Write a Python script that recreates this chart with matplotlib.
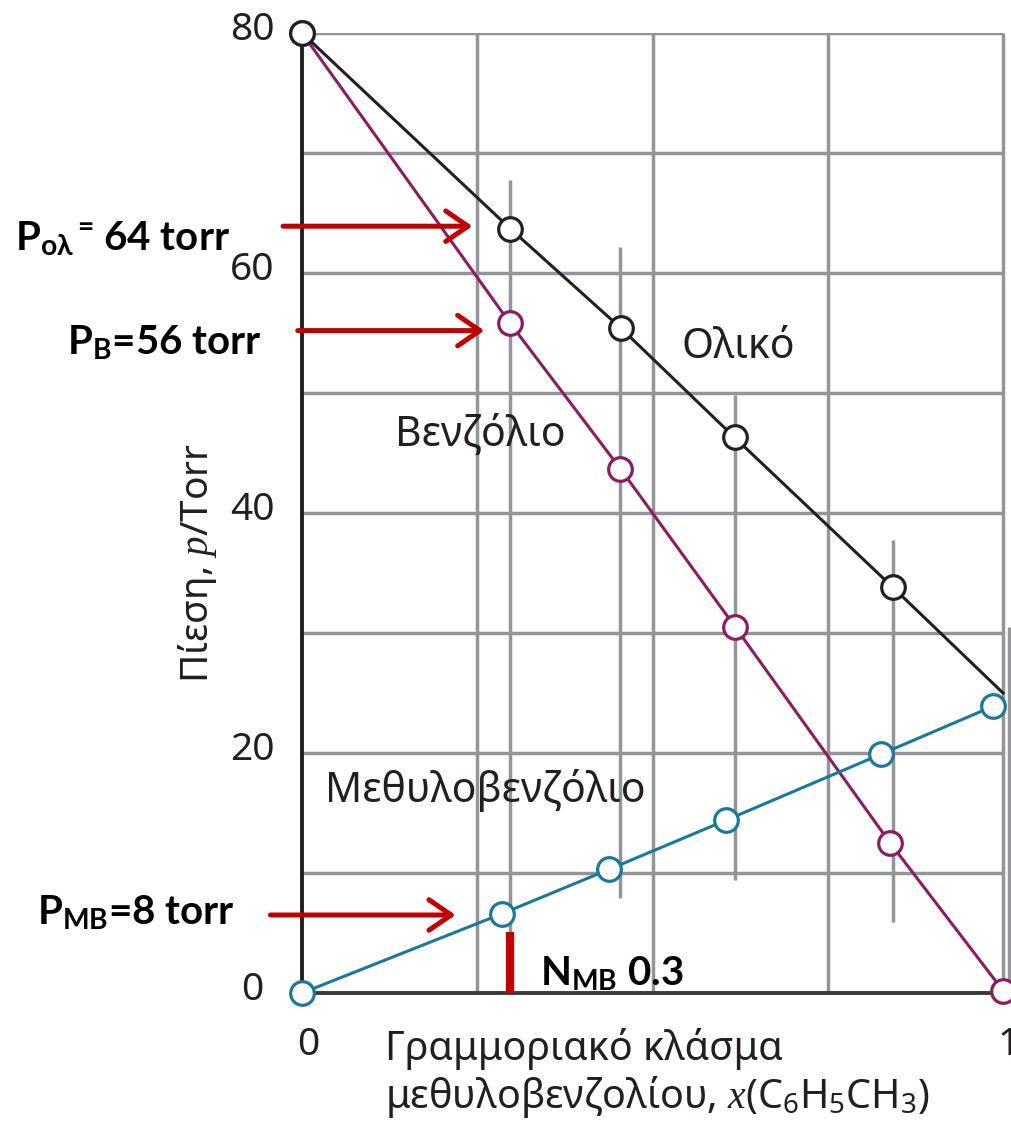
import numpy as np
import matplotlib
matplotlib.use('Agg')
import matplotlib.pyplot as plt
from matplotlib.patches import FancyArrowPatch
from matplotlib.transforms import ScaledTranslation

# mole fraction of methylbenzene and partial / total pressures (Torr)
total_x = [0.0, 0.297, 0.455, 0.617, 0.843, 1.0]
total_p = [80.0, 63.7, 55.4, 46.3, 33.8, 25.0]
benz_x = [0.0, 0.297, 0.454, 0.618, 0.839, 1.0]
benz_p = [80.0, 55.8, 43.7, 30.5, 12.5, 0.2]
tol_x = [0.0, 0.285, 0.438, 0.605, 0.826, 0.986]
tol_p = [0.0, 6.6, 10.3, 14.4, 19.9, 23.9]

# grey vertical tie segments through each composition
tie_x = [0.297, 0.454, 0.618, 0.843, 1.008]
tie_top = [67.75, 62.2, 49.8, 37.75, 30.5]
tie_bot = [4.8, 7.9, 9.4, 5.9, 0.0]

grid_y = [10, 20, 30, 40, 50, 60, 70, 80]
grid_x = [0.25, 0.5, 0.75, 1.0]
yticks = [0, 20, 40, 60, 80]
xticks = [0, 1]

series_names = ['Ολικό', 'Βενζόλιο', 'Μεθυλοβενζόλιο']

# red annotations: label, arrow start x, arrow end x, arrow y
ann_labels = [r'$\mathbf{P}_{\mathbf{ολ}}{}^{\mathbf{=}}\,$64 torr',
              r'$\mathbf{P}_{\mathbf{B}}$=56 torr',
              r'$\mathbf{P}_{\mathbf{MB}}$=8 torr']
ann_x0 = [-0.031, -0.010, -0.049]
ann_x1 = [0.247, 0.264, 0.223]
ann_y = [63.9, 55.2, 6.5]
ann_text_x = [-0.103, -0.057, -0.096]
ann_text_y = [61.9, 53.2, 5.7]
x_mark = 0.297
x_mark_top = 5.1

DARK = '#231f20'
GREY = '#939598'
RED = '#c00000'
C_TOT = '#231f20'
C_BENZ = '#8a1c5f'
C_TOL = '#1c7898'

plt.rcParams['font.family'] = ['Noto Sans', 'DejaVu Sans']
plt.rcParams['mathtext.fontset'] = 'custom'
plt.rcParams['mathtext.rm'] = 'Noto Sans'
plt.rcParams['mathtext.it'] = 'Liberation Serif:italic'
plt.rcParams['mathtext.bf'] = 'Lato:bold'

fig = plt.figure(figsize=(10.11, 11.24), dpi=100)
ax = fig.add_axes([302 / 1011, 131 / 1124, 709 / 1011, 960 / 1124])
ax.set_xlim(0, 709 / 701)
ax.set_ylim(0, 80)

# grid
ax.hlines(grid_y, 0, 1.0, colors=GREY, linewidth=2.5, zorder=0.5)
ax.vlines(grid_x, 0, 80, colors=GREY, linewidth=2.5, zorder=0.5)
ax.vlines(tie_x, tie_bot, tie_top, colors=GREY, linewidth=2.5, zorder=0.6, clip_on=False)

for s in ['top', 'right']:
    ax.spines[s].set_visible(False)
ax.spines['left'].set_color(DARK)
ax.spines['left'].set_linewidth(2.8)
ax.spines['bottom'].set_color('#3a3a3a')
ax.spines['bottom'].set_linewidth(2.8)
ax.spines['bottom'].set_bounds(0, 1.0)

mk = dict(marker='o', markersize=17, markerfacecolor='white', markeredgewidth=2.3,
          clip_on=False)
ax.plot(benz_x, benz_p, color=C_BENZ, linewidth=2.2, markeredgecolor=C_BENZ, zorder=3, **mk)
ax.plot(tol_x, tol_p, color=C_TOL, linewidth=2.2, markeredgecolor=C_TOL, zorder=3, **mk)
ax.plot(total_x, total_p, color=C_TOT, linewidth=2.2, markeredgecolor=C_TOT, zorder=4,
        markevery=list(range(len(total_x) - 1)), **mk)

# ticks
ax.set_yticks(yticks)
ax.set_xticks(xticks)
ax.set_xticklabels(['0', '1'])
ax.tick_params(length=0, labelsize=28, labelcolor=DARK)
ax.tick_params(axis='y', pad=36)
ax.tick_params(axis='x', pad=24)
for lbl in ax.get_yticklabels():
    lbl.set_ha('center')
    lbl.set_transform(lbl.get_transform() + ScaledTranslation(0, 0.08, fig.dpi_scale_trans))
for lbl in ax.get_xticklabels():
    lbl.set_transform(lbl.get_transform() + ScaledTranslation(0.06, 0, fig.dpi_scale_trans))

ax.set_ylabel('Πίεση, $p$/Torr', fontsize=28, color=DARK, ha='center', va='center')
ax.yaxis.set_label_coords(-0.148, 0.448)
ax.set_xlabel('Γραμμοριακό κλάσμα\nμεθυλοβενζολίου, $x$(C$_6$H$_5$CH$_3$)',
              fontsize=28.5, color=DARK, ha='left', va='top', linespacing=1.12)
ax.xaxis.set_label_coords((385 - 302) / 709, -0.036)

# series names
ax.text(0.622, 53.8, series_names[0], fontsize=29.5, color=DARK, ha='center', va='center')
ax.text(0.255, 46.5, series_names[1], fontsize=29.5, color=DARK, ha='center', va='center')
ax.text(0.033, 16.9, series_names[2], fontsize=29.5, color=DARK, ha='left', va='center')

# red arrows and labels
for lab, x0, x1, y, tx, ty in zip(ann_labels, ann_x0, ann_x1, ann_y, ann_text_x, ann_text_y):
    arr = FancyArrowPatch((x0, y), (x1, y), arrowstyle='->,head_length=0.8,head_width=0.55',
                          mutation_scale=20, color=RED, linewidth=3.6, clip_on=False, zorder=5)
    ax.add_patch(arr)
    ax.text(tx, ty, lab, fontsize=29, fontweight='bold', family=['Lato', 'DejaVu Sans'],
            color='black', ha='right', va='baseline', clip_on=False)

ax.vlines([x_mark], 0, x_mark_top, colors=RED, linewidth=6, zorder=5)
ax.text(0.34, 0.67, r'$\mathbf{N}_{\mathbf{MB}}$ 0.3', fontsize=29, fontweight='bold',
        family=['Lato', 'DejaVu Sans'], color='black', ha='left', va='baseline', zorder=6)

fig.savefig('out.png', dpi=100)
